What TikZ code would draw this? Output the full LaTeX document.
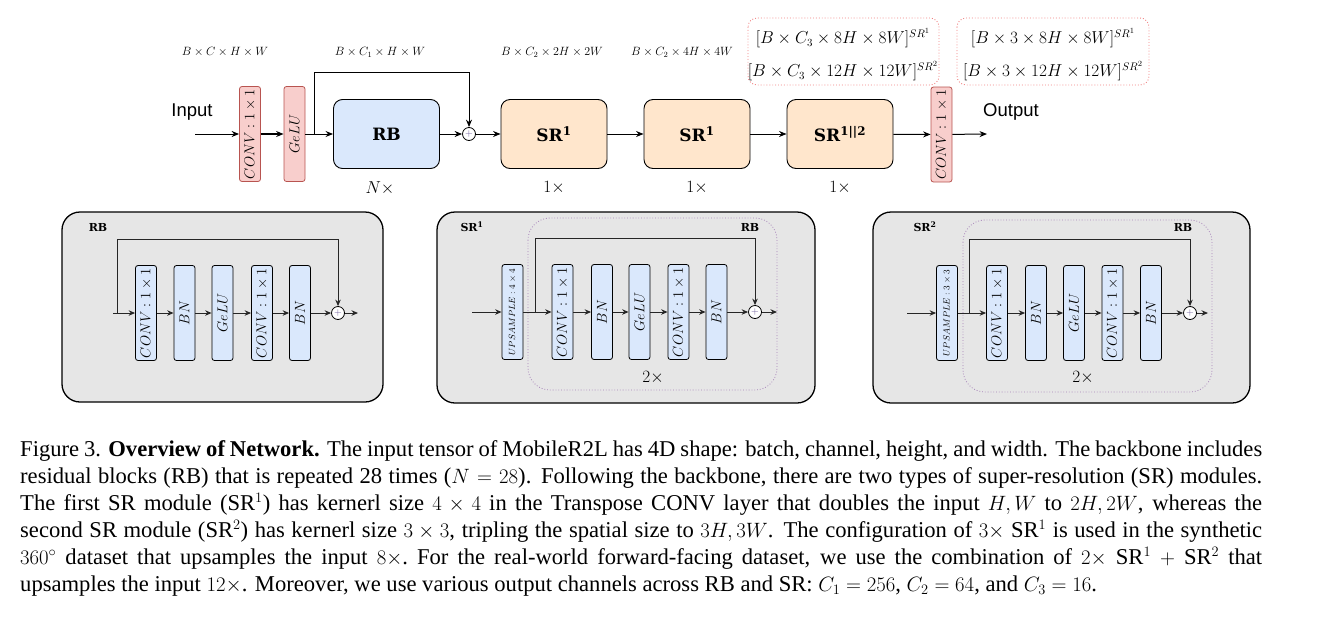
\documentclass[tikz,border=0pt]{standalone}
\usepackage{fontspec}
\setmainfont{Liberation Serif}
\newfontfamily\sansf{Liberation Sans}
\newfontfamily\slab{DejaVu Serif}
\usetikzlibrary{arrows.meta}
\definecolor{pinkF}{HTML}{F8CECC}
\definecolor{pinkD}{HTML}{B85450}
\definecolor{blueF}{HTML}{DAE8FC}
\definecolor{orF}{HTML}{FFE6CC}
\definecolor{panelF}{HTML}{E6E6E6}
\definecolor{purp}{HTML}{A680B8}
\definecolor{dashR}{HTML}{F08080}
\definecolor{plusC}{HTML}{6C5A9A}
\begin{document}
\begin{tikzpicture}[x=1pt,y=-1pt,
  ln/.style={line width=1pt, draw=black},
  arr/.style={ln, -{Stealth[length=7.5pt,width=6pt]}},
  sarr/.style={line width=1pt, draw=black!85, -{Stealth[length=6.5pt,width=5.5pt]}},
  vbox/.style={draw=black, line width=0.8pt, rounded corners=2.5pt, minimum width=95pt, minimum height=21pt, inner sep=0pt, rotate=90, font=\fontsize{13.5}{15}\selectfont},
  pinkbox/.style={vbox, fill=pinkF, draw=pinkD},
  bluebox/.style={vbox, fill=blueF},
  bigbox/.style={draw=black, line width=0.9pt, rounded corners=9pt, minimum width=106pt, minimum height=69pt, inner sep=0pt, font=\slab\bfseries\fontsize{17}{21}\selectfont},
  plus/.style={circle, draw=black, fill=white, line width=0.8pt, minimum size=13pt, inner sep=0pt, text=plusC, font=\fontsize{10}{10}\selectfont},
  panel/.style={draw=black, line width=1.3pt, fill=panelF, rounded corners=18pt},
  innerbox/.style={draw=purp, dotted, line width=0.8pt, rounded corners=22pt},
  dbox/.style={draw=dashR, dotted, line width=0.9pt, rounded corners=9pt},
  dimlbl/.style={font=\fontsize{12}{14}\selectfont},
  biglbl/.style={font=\fontsize{16}{18}\selectfont},
  mult/.style={font=\fontsize{17}{20}\selectfont},
  io/.style={font=\sansf\fontsize{18.5}{21}\selectfont},
  ttl/.style={font=\slab\bfseries\fontsize{11}{13}\selectfont},
]
\useasboundingbox (0,0) rectangle (1321,643);

% ---------------- top row ----------------
\node[io] (inp) at (192,112) {Input};
\node[io] (outp) at (1011,112) {Output};
\coordinate (tin) at (195,134);
\node[pinkbox] (tc1) at (250,134) {$CONV:1\times1$};
\node[pinkbox] (tge) at (294.5,134) {$GeLU$};
\node[bigbox, fill=blueF] (trb) at (386.5,134) {RB};
\node[plus] (tp) at (469,134) {$+$};
\node[bigbox, fill=orF] (ts1) at (554,134) {SR\textsuperscript{1}};
\node[bigbox, fill=orF] (ts2) at (697,134) {SR\textsuperscript{1}};
\node[bigbox, fill=orF] (ts3) at (840,134) {SR\textsuperscript{1||2}};
\node[pinkbox] (tc2) at (941.5,134.5) {$CONV:1\times1$};
\coordinate (tout) at (987,134);
\coordinate (tbr) at (314,134);

\draw[arr] (tin) -- (tc1);
\draw[arr, line width=1.4pt] (tc1) -- (tge);
\draw[arr] (tge) -- (trb);
\draw[arr] (tbr) -- ++(0,-62) -| (tp);
\draw[arr] (trb) -- (tp);
\draw[arr] (tp) -- (ts1);
\draw[arr] (ts1) -- (ts2);
\draw[arr] (ts2) -- (ts3);
\draw[arr] (ts3) -- (tc2);
\draw[arr] (tc2) -- (tout);

\node[dimlbl] (d1) at (225,52) {$B\times C\times H\times W$};
\node[dimlbl] (d2) at (380,52) {$B\times C_1\times H\times W$};
\node[dimlbl] (d3) at (552,52) {$B\times C_2\times 2H\times 2W$};
\node[dimlbl] (d4) at (682,52) {$B\times C_2\times 4H\times 4W$};

\path[dbox] (748,18) rectangle (939,85);
\path[dbox] (957,18) rectangle (1149,85);
\node[biglbl] (e1) at (843,38) {$[B\times C_3\times 8H\times 8W]^{SR^1}$};
\node[biglbl] (e2) at (843,71) {$[B\times C_3\times 12H\times 12W]^{SR^2}$};
\node[biglbl] (f1) at (1053,38) {$[B\times 3\times 8H\times 8W]^{SR^1}$};
\node[biglbl] (f2) at (1053,71) {$[B\times 3\times 12H\times 12W]^{SR^2}$};

\node[mult] (m0) at (380,188) {$N\times$};
\node[mult] (m1) at (554,188) {$1\times$};
\node[mult] (m2) at (697,188) {$1\times$};
\node[mult] (m3) at (840,188) {$1\times$};

% ---------------- panel RB ----------------
\path[panel] (62,212) rectangle (383,402);
\node[ttl] (at) at (98,227) {RB};
\coordinate (a0) at (113,313);
\coordinate (ab) at (117,313);
\node[bluebox] (a1) at (146,313) {$CONV:1\times1$};
\node[bluebox] (a2) at (184.5,313) {$BN$};
\node[bluebox] (a3) at (222.5,313) {$GeLU$};
\node[bluebox] (a4) at (262,313) {$CONV:1\times1$};
\node[bluebox] (a5) at (300,313) {$BN$};
\node[plus] (ap) at (338,313) {$+$};
\coordinate (ao) at (358,313);
\draw[sarr] (a0) -- (a1);
\draw[sarr] (a1) -- (a2);
\draw[sarr] (a2) -- (a3);
\draw[sarr] (a3) -- (a4);
\draw[sarr] (a4) -- (a5);
\draw[sarr] (a5) -- (ap);
\draw[sarr] (ap) -- (ao);
\draw[sarr] (ab) -- ++(0,-74) -| (ap);

% ---------------- panel SR1 ----------------
\path[panel] (437,212) rectangle (815,403);
\path[innerbox] (528,218) rectangle (777,390);
\node[ttl] (bt) at (472,227) {SR\textsuperscript{1}};
\node[ttl] (brb) at (750,227) {RB};
\coordinate (b0) at (472,312);
\node[bluebox, font=\fontsize{9}{10}\selectfont] (bu) at (512.5,312) {$UPSAMPLE:4\times4$};
\coordinate (bb) at (535,312);
\node[bluebox] (b1) at (562.5,312) {$CONV:1\times1$};
\node[bluebox] (b2) at (602,312) {$BN$};
\node[bluebox] (b3) at (639.5,312) {$GeLU$};
\node[bluebox] (b4) at (678.5,312) {$CONV:1\times1$};
\node[bluebox] (b5) at (716.5,312) {$BN$};
\node[plus] (bp) at (755,312) {$+$};
\coordinate (bo) at (777,312);
\draw[sarr] (b0) -- (bu);
\draw[sarr] (bu) -- (b1);
\draw[sarr] (b1) -- (b2);
\draw[sarr] (b2) -- (b3);
\draw[sarr] (b3) -- (b4);
\draw[sarr] (b4) -- (b5);
\draw[sarr] (b5) -- (bp);
\draw[sarr] (bp) -- (bo);
\draw[sarr] (bb) -- ++(0,-74) -| (bp);
\node[mult] (bm) at (653,378) {$2\times$};

% ---------------- panel SR2 ----------------
\path[panel] (873,212) rectangle (1250,403);
\path[innerbox] (963,220) rectangle (1212,392);
\node[ttl] (ct) at (925,227) {SR\textsuperscript{2}};
\node[ttl] (crb) at (1183,227) {RB};
\coordinate (c0) at (907,313);
\node[bluebox, font=\fontsize{9}{10}\selectfont] (cu) at (947,313) {$UPSAMPLE:3\times3$};
\coordinate (cb) at (969,313);
\node[bluebox] (c1) at (997,313) {$CONV:1\times1$};
\node[bluebox] (c2) at (1036,313) {$BN$};
\node[bluebox] (c3) at (1074,313) {$GeLU$};
\node[bluebox] (c4) at (1112.5,313) {$CONV:1\times1$};
\node[bluebox] (c5) at (1151,313) {$BN$};
\node[plus] (cp) at (1190,313) {$+$};
\coordinate (co) at (1208,313);
\draw[sarr] (c0) -- (cu);
\draw[sarr] (cu) -- (c1);
\draw[sarr] (c1) -- (c2);
\draw[sarr] (c2) -- (c3);
\draw[sarr] (c3) -- (c4);
\draw[sarr] (c4) -- (c5);
\draw[sarr] (c5) -- (cp);
\draw[sarr] (cp) -- (co);
\draw[sarr] (cb) -- ++(0,-74) -| (cp);
\node[mult] (cm) at (1083,378) {$2\times$};

% ---------------- caption ----------------
\node[anchor=base west, inner sep=0pt] (cap) at (20,456) {\parbox[t]{1242pt}{\fontsize{22.6}{27}\selectfont\lineskiplimit=-100pt\hfuzz=60pt\hbadness=10000%
\hbox to 1242pt{Figure 3. \textbf{Overview of Network.} The input tensor of MobileR2L has 4D shape: batch, channel, height, and width. The backbone includes}
\hbox to 1242pt{residual blocks (RB) that is repeated 28 times ($N=28$). Following the backbone, there are two types of super-resolution (SR) modules.}
\hbox to 1242pt{The first SR module (SR$^1$) has kernerl size $4\times4$ in the Transpose CONV layer that doubles the input $H,W$ to $2H,2W$, whereas the}
\hbox to 1242pt{second SR module (SR$^2$) has kernerl size $3\times3$, tripling the spatial size to $3H,3W$. The configuration of $3\times$ SR$^1$ is used in the synthetic}
\hbox to 1242pt{$360^\circ$ dataset that upsamples the input $8\times$.\ For the real-world forward-facing dataset, we use the combination of $2\times$ SR$^1$ $+$ SR$^2$ that}
\hbox{upsamples the input $12\times$. Moreover, we use various output channels across RB and SR: $C_1=256$, $C_2=64$, and $C_3=16$.}}};
\end{tikzpicture}
\end{document}
